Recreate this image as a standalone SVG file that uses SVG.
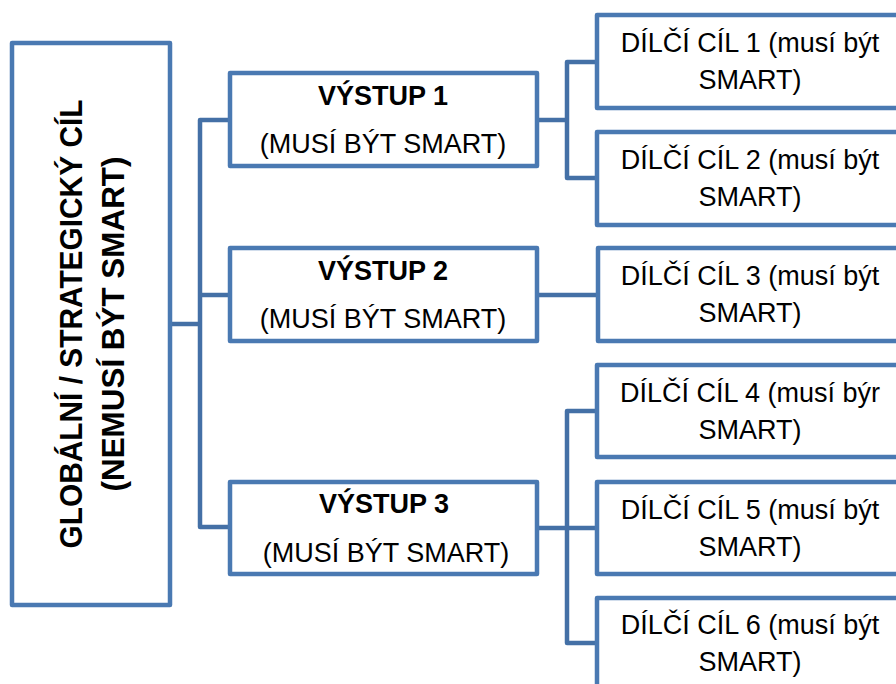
<svg xmlns="http://www.w3.org/2000/svg" width="896" height="684" viewBox="0 0 896 684">
<style>
.box{fill:#ffffff;stroke:#4a79b2;stroke-width:4.5;stroke-linejoin:round}
.con{fill:none;stroke:#4470a6;stroke-width:4.5;stroke-linejoin:round}
.t{font-family:"Liberation Sans",Arial,sans-serif;font-size:27px;fill:#000;text-anchor:middle}
.b{font-weight:bold}
.g{font-family:"Liberation Sans",Arial,sans-serif;font-size:31px;font-weight:bold;fill:#000;text-anchor:middle}
</style>
<rect width="896" height="684" fill="#ffffff"/>
<g id="connectors">
<path class="con" d="M170,324 H200"/>
<path class="con" d="M230,120 H200 V527 H230"/>
<path class="con" d="M200,295 H230"/>
<path class="con" d="M537,120 H567"/>
<path class="con" d="M597,62 H567 V178 H597"/>
<path class="con" d="M537,295 H598"/>
<path class="con" d="M537,528 H597"/>
<path class="con" d="M597,411 H567 V643 H597"/>
</g>
<g id="global">
<rect class="box" x="12" y="43" width="158" height="562"/>
<g transform="translate(0,324) rotate(-90)">
<text class="g" x="0" y="82" textLength="449" lengthAdjust="spacingAndGlyphs">GLOBÁLNÍ / STRATEGICKÝ CÍL</text>
<text class="g" x="0" y="124" textLength="335" lengthAdjust="spacingAndGlyphs">(NEMUSÍ BÝT SMART)</text>
</g>
</g>
<g id="vystup1">
<rect class="box" x="230" y="73" width="307" height="93"/>
<text class="t b" x="383" y="105">VÝSTUP 1</text>
<text class="t" x="383" y="153">(MUSÍ BÝT SMART)</text>
</g>
<g id="vystup2">
<rect class="box" x="230" y="248" width="307" height="93"/>
<text class="t b" x="383" y="280">VÝSTUP 2</text>
<text class="t" x="383" y="328">(MUSÍ BÝT SMART)</text>
</g>
<g id="vystup3">
<rect class="box" x="230" y="482" width="307" height="92"/>
<text class="t b" x="384" y="513">VÝSTUP 3</text>
<text class="t" x="386" y="562">(MUSÍ BÝT SMART)</text>
</g>
<g id="cil1">
<rect class="box" x="597" y="15" width="306" height="93"/>
<text class="t" x="750" y="52">DÍLČÍ CÍL 1 (musí být</text>
<text class="t" x="750" y="89">SMART)</text>
</g>
<g id="cil2">
<rect class="box" x="597" y="132" width="306" height="93"/>
<text class="t" x="750" y="169">DÍLČÍ CÍL 2 (musí být</text>
<text class="t" x="750" y="206">SMART)</text>
</g>
<g id="cil3">
<rect class="box" x="598" y="248" width="306" height="93"/>
<text class="t" x="750" y="285">DÍLČÍ CÍL 3 (musí být</text>
<text class="t" x="750" y="322">SMART)</text>
</g>
<g id="cil4">
<rect class="box" x="597" y="365" width="306" height="92"/>
<text class="t" x="750" y="402">DÍLČÍ CÍL 4 (musí býr</text>
<text class="t" x="750" y="439">SMART)</text>
</g>
<g id="cil5">
<rect class="box" x="597" y="482" width="306" height="92"/>
<text class="t" x="750" y="519">DÍLČÍ CÍL 5 (musí být</text>
<text class="t" x="750" y="556">SMART)</text>
</g>
<g id="cil6">
<rect class="box" x="597" y="598" width="306" height="93"/>
<text class="t" x="750" y="634">DÍLČÍ CÍL 6 (musí být</text>
<text class="t" x="750" y="671">SMART)</text>
</g>
</svg>
